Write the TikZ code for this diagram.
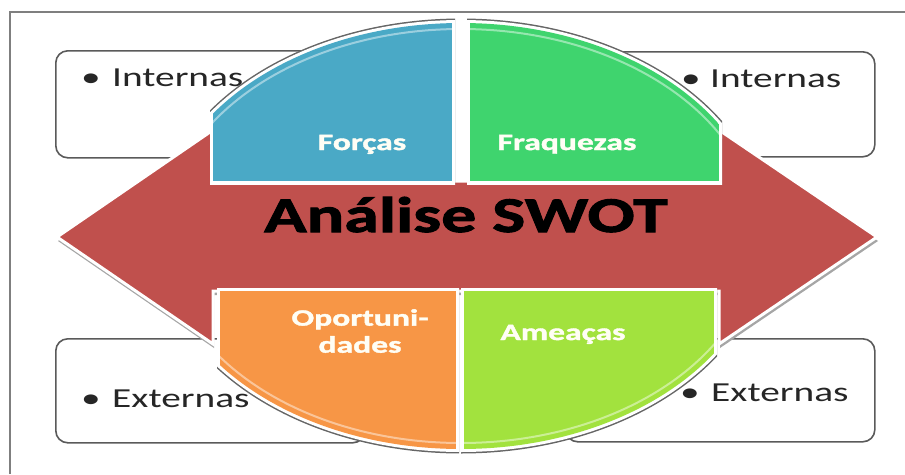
\documentclass[tikz,border=0pt]{standalone}
\usepackage{fontspec}
\setmainfont{Carlito}
\newfontfamily\wide[FakeStretch=1.43]{Carlito}
\newfontfamily\widebf[FakeStretch=1.43, BoldFeatures={FakeBold=1.6}]{Carlito}
\newfontfamily\titlebf[FakeStretch=1.40, BoldFeatures={FakeBold=2}]{Carlito}
\usepackage{xcolor}
\usetikzlibrary{calc}
\usetikzlibrary{positioning}

\definecolor{swotred}{HTML}{C0504D}
\definecolor{forcas}{HTML}{4AA9C6}
\definecolor{fraq}{HTML}{3FD46E}
\definecolor{oport}{HTML}{F79646}
\definecolor{ameac}{HTML}{A2E23E}
\definecolor{boxgray}{HTML}{5A5A5A}
\definecolor{framegray}{HTML}{7F7F7F}

\begin{document}
\begin{tikzpicture}[x=1pt, y=-1pt, font=\wide]
    \tikzstyle{box}=[draw=boxgray, line width=1.6pt, rounded corners=12pt, fill=white, inner sep=0pt, anchor=north west]
    \tikzstyle{item}=[anchor=base west, inner sep=0pt, text=black!85, font=\wide\fontsize{27.5}{30}\selectfont]
    \tikzstyle{quadtext}=[inner sep=0pt, text=white!96!yellow, align=center, font=\widebf\bfseries\fontsize{23.5}{27}\selectfont]

    \useasboundingbox (0,0) rectangle (905,474);
    \draw[framegray, line width=2pt] (10,474) -- (10,12) -- (905,12);

    % the four boxes behind
    \node[box, minimum width=309pt, minimum height=107pt] (intL) at (55,50) {};
    \node[box, minimum width=309pt, minimum height=105pt] (intR) at (565,51) {};
    \node[box, minimum width=309pt, minimum height=104pt] (extL) at (55,338) {};
    \node[box, minimum width=309pt, minimum height=103pt] (extR) at (565,338) {};

    \node[item] (intLt) at (81,86) {\makebox[31pt][l]{•}Internas};
    \node[item] (intRt) at (681,87) {\makebox[29pt][l]{•}Internas};
    \node[item] (extLt) at (81,407) {\makebox[31pt][l]{•}Externas};
    \node[item] (extRt) at (680,401) {\makebox[31pt][l]{•}Externas};

    % double arrow
    \fill[black!35, shift={(1,4)}] (57,237) -- (213,130) -- (213,181) -- (719,181) -- (719,130) -- (877,237)
        -- (719,344) -- (719,291) -- (213,291) -- (213,344) -- cycle;
    \filldraw[fill=swotred, draw=white, line width=3pt] (57,237) -- (213,130) -- (213,181) -- (719,181) -- (719,130)
        -- (877,237) -- (719,344) -- (719,291) -- (213,291) -- (213,344) -- cycle;

    % quadrants of the ellipse
    \foreach \xa/\ya/\xb/\yb/\col in {213/20/452/181/forcas, 470/20/719/181/fraq, 220/291/456/455/oport, 464/291/714/455/ameac}{
        \begin{scope}
            \clip (\xa-3,\ya-3) rectangle (\xb+3,\yb+3);
            \fill[black!60] (461,236) ellipse [x radius=307.5, y radius=217.5];
            \fill[white] (461,236) ellipse [x radius=306, y radius=216];
            \clip (461,236) ellipse [x radius=303, y radius=213];
            \fill[\col] (\xa,\ya) rectangle (\xb,\yb);
            \draw[white, opacity=.45, line width=2pt] (461,236) ellipse [x radius=297, y radius=207];
        \end{scope}
    }

    \node[quadtext, anchor=base] (forcasT) at (362,150) {Forças};
    \node[quadtext, anchor=base] (fraqT) at (567,150) {Fraquezas};
    \node[quadtext] (oportT) at (360,331) {Oportuni-\\dades};
    \node[quadtext, anchor=base] (ameacT) at (563,340) {Ameaças};

    \node[anchor=base, inner sep=0pt, font=\titlebf\bfseries\fontsize{50}{60}\selectfont] (swot) at (466,232) {Análise SWOT};
\end{tikzpicture}
\end{document}
